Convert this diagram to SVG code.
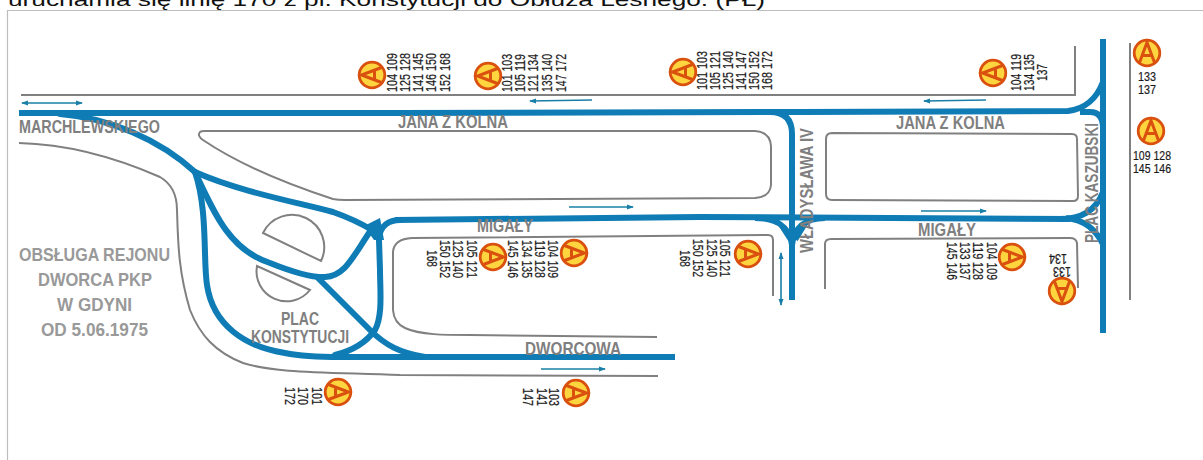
<svg xmlns="http://www.w3.org/2000/svg" width="1203" height="460" viewBox="0 0 1203 460">
<style>
.road{fill:none;stroke:#0f7cb5;stroke-width:6;stroke-linejoin:round}
.in{stroke-linecap:round}
.kerb{fill:none;stroke:#808080;stroke-width:2}
.dir{fill:none;stroke:#1a7fa8;stroke-width:1.6}
.st{font-family:"Liberation Sans",Arial,sans-serif;font-weight:700;font-size:18px;fill:#7f7f7f}
.note{font-size:19px;fill:#999}
.n{font-family:"Liberation Sans",Arial,sans-serif;font-size:14.500px;fill:#1a1a1a;stroke:#1a1a1a;stroke-width:.2}
.n2{font-size:13px}
</style>
<defs>
<marker id="ah" markerWidth="8" markerHeight="6" refX="6" refY="3" orient="auto-start-reverse" markerUnits="userSpaceOnUse"><path d="M0 0.5L7 3L0 5.5Z" fill="#1a7fa8"/></marker>
<g id="badge"><circle r="12.800" fill="#ffd53f" stroke="#d9500f" stroke-width="2.800"/><path d="M-7.500 9.500L0-10.500L7.500 9.500M-4.600 2.500H4.600" fill="none" stroke="#d9500f" stroke-width="3"/></g>
</defs>
<rect width="1203" height="460" fill="#fff"/>
<text x="8" y="6" font-family="Liberation Sans,Arial,sans-serif" font-size="19" fill="#111" textLength="757" lengthAdjust="spacingAndGlyphs">uruchamia się linię 170 z pl. Konstytucji do Obłuża Leśnego. (PŁ)</text>
<path d="M1203 10.500H7.500V460" fill="none" stroke="#bdbdbd" stroke-width="1.200"/>
<g id="kerbs">
<path class="kerb" d="M21 95H1075V46"/>
<path class="kerb" d="M1130 43V300"/>
<path class="kerb" d="M19 143C60 144 110 155 160 177C172 184 177 195 177 210C178 240 178 270 190 310C200 335 215 352 243 363C275 373 320 372 400 375L658 376"/>
<path class="kerb" d="M200 132Q197 136 203 140C240 165 290 185 333 199Q338 200 345 200L755 198Q770 197 771 185L771 146Q770 132 755 131L205 131Q201 131 200 132Z"/>
<path class="kerb" d="M263 233A32 32 0 0 1 321 261Z"/>
<path class="kerb" d="M257 266A30 30 0 0 0 310 290Z"/>
<path class="kerb" d="M773 296V240Q773 235 768 235L412 238Q394 239 393 252V310Q394 323 405 328C420 335 445 335 470 335L657 337"/>
<path class="kerb" d="M832 133L1072 134Q1077 134 1077 139L1078 196Q1078 201 1073 201L832 200Q826 200 826 194V139Q826 133 832 133Z"/>
<path class="kerb" d="M825 289V244Q825 239 831 239L1070 238Q1076 238 1077 243L1078 288"/>
</g>
<g id="connectors">
<path class="road" d="M19 113L400 113L800 112L1068 111C1085 109 1097 98 1103 82"/>
<path class="road" d="M1103 39V333"/>
<path class="road" d="M1080 112H1090Q1103 112 1103 128"/>
<path class="road" d="M1060 219C1085 219 1097 208 1103 192"/>
<path class="road" d="M1066 218C1085 220 1095 229 1103 244"/>
<path class="road" d="M395 220L700 217L1070 219"/>
<path class="road" d="M770 112Q792 112 792 134V300"/>
<path class="road" d="M755 218C775 218 790 226 792 245C794 228 805 218 825 218"/>
<path class="road" d="M777 220L790 240M807 222L796 240" style="stroke-width:4"/>
<path class="road in" d="M60 114C110 118 160 140 195 172"/>
<path class="road in" d="M195 172C240 192 300 203 333 212C350 218 362 224 372 230"/>
<path class="road in" d="M195 172C215 215 230 250 270 263C290 271 310 278 325 277C345 276 352 258 371 230"/>
<path class="road" d="M195 172C208 210 203 260 207 285C213 325 245 347 285 353C300 356 315 357 340 357H675"/>
<path class="road in" d="M317 277L370 330C385 345 400 353 425 357"/>
<path class="road in" d="M335 355C355 350 368 340 375 330C383 315 380 290 380 270L379 240C379 225 390 220 400 220"/>
<path d="M364 226L380 218L384 240L374 240Z" fill="#0f7cb5"/>
<path class="dir" d="M22 103H82" marker-start="url(#ah)" marker-end="url(#ah)"/>
<path class="dir" d="M592 100L530 101" marker-end="url(#ah)"/>
<path class="dir" d="M569 207H633" marker-end="url(#ah)"/>
<path class="dir" d="M986 100L924 101" marker-end="url(#ah)"/>
<path class="dir" d="M921 211H986" marker-end="url(#ah)"/>
<path class="dir" d="M541 369H605" marker-end="url(#ah)"/>
<path class="dir" d="M781 253V305" marker-start="url(#ah)" marker-end="url(#ah)"/>
</g>
<g id="streets">
<text class="st" x="19" y="133" textLength="141" lengthAdjust="spacingAndGlyphs">MARCHLEWSKIEGO</text>
<text class="st" x="398" y="128" textLength="110" lengthAdjust="spacingAndGlyphs">JANA Z KOLNA</text>
<text class="st" x="896" y="128.500" textLength="109" lengthAdjust="spacingAndGlyphs">JANA Z KOLNA</text>
<text class="st" x="477" y="232" textLength="56" lengthAdjust="spacingAndGlyphs">MIGAŁY</text>
<text class="st" x="918" y="235.500" textLength="58" lengthAdjust="spacingAndGlyphs">MIGAŁY</text>
<text class="st" x="525" y="355" textLength="96" lengthAdjust="spacingAndGlyphs">DWORCOWA</text>
<text class="st" transform="translate(813 253) rotate(-90)" textLength="125" lengthAdjust="spacingAndGlyphs">WŁADYSŁAWA IV</text>
<text class="st" transform="translate(1098 243) rotate(-90)" textLength="120" lengthAdjust="spacingAndGlyphs">PLAC KASZUBSKI</text>
<text class="st" x="281" y="325" textLength="38" lengthAdjust="spacingAndGlyphs">PLAC</text>
<text class="st" x="251" y="343" textLength="98" lengthAdjust="spacingAndGlyphs">KONSTYTUCJI</text>
<text class="st note" x="19" y="261" textLength="151" lengthAdjust="spacingAndGlyphs">OBSŁUGA REJONU</text>
<text class="st note" x="38" y="286" textLength="114" lengthAdjust="spacingAndGlyphs">DWORCA PKP</text>
<text class="st note" x="57" y="311" textLength="75" lengthAdjust="spacingAndGlyphs">W GDYNI</text>
<text class="st note" x="41" y="336" textLength="107" lengthAdjust="spacingAndGlyphs">OD 5.06.1975</text>
</g>
<g id="stop-1"><use href="#badge" transform="translate(372 75) rotate(-90)"/>
<g class="n"><text transform="translate(397 92) rotate(-90)" textLength="39" lengthAdjust="spacingAndGlyphs">104 109</text><text transform="translate(410 92) rotate(-90)" textLength="39" lengthAdjust="spacingAndGlyphs">125 128</text><text transform="translate(423 92) rotate(-90)" textLength="39" lengthAdjust="spacingAndGlyphs">141 145</text><text transform="translate(436 92) rotate(-90)" textLength="39" lengthAdjust="spacingAndGlyphs">146 150</text><text transform="translate(450 92) rotate(-90)" textLength="39" lengthAdjust="spacingAndGlyphs">152 168</text></g></g>
<g id="stop-2"><use href="#badge" transform="translate(488 76) rotate(-90)"/>
<g class="n"><text transform="translate(512 92) rotate(-90)" textLength="38" lengthAdjust="spacingAndGlyphs">101 103</text><text transform="translate(525 92) rotate(-90)" textLength="38" lengthAdjust="spacingAndGlyphs">105 119</text><text transform="translate(538 92) rotate(-90)" textLength="38" lengthAdjust="spacingAndGlyphs">121 134</text><text transform="translate(552 92) rotate(-90)" textLength="38" lengthAdjust="spacingAndGlyphs">135 140</text><text transform="translate(566 92) rotate(-90)" textLength="38" lengthAdjust="spacingAndGlyphs">147 172</text></g></g>
<g id="stop-3"><use href="#badge" transform="translate(683 72) rotate(-90)"/>
<g class="n"><text transform="translate(707 90) rotate(-90)" textLength="39" lengthAdjust="spacingAndGlyphs">101 103</text><text transform="translate(720 90) rotate(-90)" textLength="39" lengthAdjust="spacingAndGlyphs">105 121</text><text transform="translate(733 90) rotate(-90)" textLength="39" lengthAdjust="spacingAndGlyphs">125 140</text><text transform="translate(746 90) rotate(-90)" textLength="39" lengthAdjust="spacingAndGlyphs">141 147</text><text transform="translate(759 90) rotate(-90)" textLength="39" lengthAdjust="spacingAndGlyphs">150 152</text><text transform="translate(772 90) rotate(-90)" textLength="39" lengthAdjust="spacingAndGlyphs">168 172</text></g></g>
<g id="stop-4"><use href="#badge" transform="translate(993 73) rotate(-90)"/>
<g class="n"><text transform="translate(1021 91) rotate(-90)" textLength="37" lengthAdjust="spacingAndGlyphs">104 119</text><text transform="translate(1034 91) rotate(-90)" textLength="37" lengthAdjust="spacingAndGlyphs">134 135</text><text transform="translate(1047 81) rotate(-90)" textLength="17" lengthAdjust="spacingAndGlyphs">137</text></g></g>
<g id="stop-5"><use href="#badge" transform="translate(1147 53)"/>
<g class="n n2"><text x="1138" y="81" textLength="18" lengthAdjust="spacingAndGlyphs">133</text><text x="1138" y="94" textLength="18" lengthAdjust="spacingAndGlyphs">137</text></g></g>
<g id="stop-6"><use href="#badge" transform="translate(1151 131)"/>
<g class="n n2"><text x="1133" y="160" textLength="38" lengthAdjust="spacingAndGlyphs">109 128</text><text x="1133" y="173" textLength="38" lengthAdjust="spacingAndGlyphs">145 146</text></g></g>
<g id="stop-7"><use href="#badge" transform="translate(493 257) rotate(90)"/>
<g class="n"><text transform="translate(467 240) rotate(90)" textLength="38" lengthAdjust="spacingAndGlyphs">105 121</text><text transform="translate(453 240) rotate(90)" textLength="38" lengthAdjust="spacingAndGlyphs">125 140</text><text transform="translate(440 240) rotate(90)" textLength="38" lengthAdjust="spacingAndGlyphs">150 152</text><text transform="translate(427 250) rotate(90)" textLength="17" lengthAdjust="spacingAndGlyphs">168</text></g></g>
<g id="stop-8"><use href="#badge" transform="translate(574 253) rotate(90)"/>
<g class="n"><text transform="translate(548 240) rotate(90)" textLength="38" lengthAdjust="spacingAndGlyphs">104 109</text><text transform="translate(535 240) rotate(90)" textLength="38" lengthAdjust="spacingAndGlyphs">119 128</text><text transform="translate(522 240) rotate(90)" textLength="38" lengthAdjust="spacingAndGlyphs">134 135</text><text transform="translate(508 240) rotate(90)" textLength="38" lengthAdjust="spacingAndGlyphs">145 146</text></g></g>
<g id="stop-9"><use href="#badge" transform="translate(748 254) rotate(90)"/>
<g class="n"><text transform="translate(720 239) rotate(90)" textLength="38" lengthAdjust="spacingAndGlyphs">105 121</text><text transform="translate(707 239) rotate(90)" textLength="38" lengthAdjust="spacingAndGlyphs">125 140</text><text transform="translate(693 239) rotate(90)" textLength="38" lengthAdjust="spacingAndGlyphs">150 152</text><text transform="translate(680 250) rotate(90)" textLength="17" lengthAdjust="spacingAndGlyphs">168</text></g></g>
<g id="stop-10"><use href="#badge" transform="translate(1012 257) rotate(90)"/>
<g class="n"><text transform="translate(987 242) rotate(90)" textLength="38" lengthAdjust="spacingAndGlyphs">104 109</text><text transform="translate(973 242) rotate(90)" textLength="38" lengthAdjust="spacingAndGlyphs">119 128</text><text transform="translate(960 242) rotate(90)" textLength="38" lengthAdjust="spacingAndGlyphs">133 137</text><text transform="translate(947 242) rotate(90)" textLength="38" lengthAdjust="spacingAndGlyphs">145 146</text></g></g>
<g id="stop-11"><use href="#badge" transform="translate(1062 291) rotate(180)"/>
<g class="n"><text transform="translate(1071 267) rotate(180)" textLength="18" lengthAdjust="spacingAndGlyphs">133</text><text transform="translate(1067 254) rotate(180)" textLength="18" lengthAdjust="spacingAndGlyphs">134</text></g></g>
<g id="stop-12"><use href="#badge" transform="translate(338 392) rotate(90)"/>
<g class="n"><text transform="translate(312 387) rotate(90)" textLength="18" lengthAdjust="spacingAndGlyphs">101</text><text transform="translate(298 387) rotate(90)" textLength="18" lengthAdjust="spacingAndGlyphs">170</text><text transform="translate(285 387) rotate(90)" textLength="18" lengthAdjust="spacingAndGlyphs">172</text></g></g>
<g id="stop-13"><use href="#badge" transform="translate(576 393) rotate(90)"/>
<g class="n"><text transform="translate(549 388) rotate(90)" textLength="18" lengthAdjust="spacingAndGlyphs">103</text><text transform="translate(537 388) rotate(90)" textLength="18" lengthAdjust="spacingAndGlyphs">141</text><text transform="translate(523 388) rotate(90)" textLength="18" lengthAdjust="spacingAndGlyphs">147</text></g></g>
</svg>
